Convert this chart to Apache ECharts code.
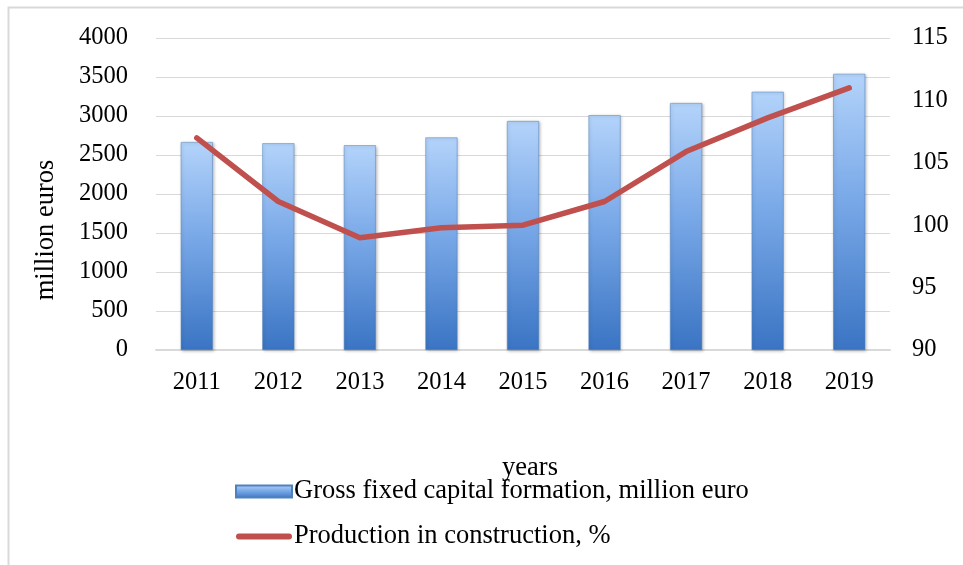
<!DOCTYPE html>
<html>
<head>
<meta charset="utf-8">
<script src="https://cdn.jsdelivr.net/npm/echarts@6/dist/echarts.min.js"></script>
<style>
  html, body { margin: 0; padding: 0; background: #fff; }
  #main { width: 963px; height: 565px; }
</style>
</head>
<body>
<div id="main"></div>
<script>
// 数据
var years = ['2011', '2012', '2013', '2014', '2015', '2016', '2017', '2018', '2019']
var capitalFormation = [2665, 2650, 2625, 2725, 2935, 3010, 3165, 3310, 3540]
var constructionIndex = [107.0, 101.9, 99.0, 99.8, 100.0, 101.9, 105.9, 108.6, 111.0]

var font = 'Liberation Serif, Times New Roman, serif'

var barColor = new echarts.graphic.LinearGradient(0, 0, 0, 1, [
  { offset: 0, color: '#b3d3fa' },
  { offset: 0.45, color: '#7aa9e8' },
  { offset: 1, color: '#3a74c3' }
])

// 图例中的粗红线(圆头)
var lineIcon = 'path://M0,0L0.01,0L0,0.01Z M3,3L53,3A3,3 0 0 1 53,9L3,9A3,3 0 0 1 3,3Z M56,12L55.99,12L56,11.99Z'

var myChart = echarts.init(document.getElementById('main'))

var option = {
  backgroundColor: '#fff',
  animation: false,
  textStyle: { fontFamily: font },
  grid: { left: 156, right: 73, top: 38, bottom: 215 },
  // 外框
  graphic: [{
    type: 'rect',
    shape: { x: 8.5, y: 7.5, width: 1000, height: 600 },
    style: { fill: 'none', stroke: '#d9d9d9', lineWidth: 2 },
    silent: true
  }],
  legend: {
    orient: 'vertical',
    left: 235,
    top: 478,
    padding: 0,
    itemGap: 18,
    itemWidth: 56,
    itemHeight: 12,
    textStyle: { fontFamily: font, fontSize: 26.5, color: '#000', padding: [0, 0, 0, -3] },
    data: [
      { name: 'Gross fixed capital formation, million euro', icon: 'rect' },
      { name: 'Production in construction, %', icon: lineIcon, itemStyle: { color: '#c0504d' } }
    ]
  },
  xAxis: {
    type: 'category',
    data: years,
    name: 'years',
    nameLocation: 'middle',
    nameGap: 105,
    nameTextStyle: { fontFamily: font, fontSize: 26.5, color: '#000', padding: [0, 0, 0, 14] },
    axisLine: { lineStyle: { color: '#d9d9d9', width: 2 } },
    axisTick: { show: false },
    axisLabel: { fontFamily: font, fontSize: 24.5, color: '#000', margin: 20 }
  },
  yAxis: [
    {
      type: 'value',
      min: 0,
      max: 4000,
      interval: 500,
      name: 'million euros',
      nameLocation: 'middle',
      nameRotate: 90,
      nameGap: 96,
      nameTextStyle: { fontFamily: font, fontSize: 26.5, color: '#000', padding: [0, 72, 0, 0] },
      axisLine: { show: false },
      axisTick: { show: false },
      axisLabel: {
        fontFamily: font, fontSize: 24.5, color: '#000', margin: 28,
        formatter: function (v) { return String(v) }
      },
      splitLine: { lineStyle: { color: '#d9d9d9', width: 1 } }
    },
    {
      type: 'value',
      min: 90,
      max: 115,
      interval: 5,
      axisLine: { show: false },
      axisTick: { show: false },
      axisLabel: { fontFamily: font, fontSize: 24.5, color: '#000', margin: 22 },
      splitLine: { show: false }
    }
  ],
  series: [
    {
      name: 'Gross fixed capital formation, million euro',
      type: 'bar',
      data: capitalFormation,
      barWidth: 32,
      itemStyle: {
        color: barColor,
        borderColor: '#4f81bd',
        borderWidth: 0.5,
        shadowColor: 'rgba(0,0,0,0.25)',
        shadowBlur: 3,
        shadowOffsetX: 1,
        shadowOffsetY: 1
      }
    },
    {
      name: 'Production in construction, %',
      type: 'line',
      yAxisIndex: 1,
      data: constructionIndex,
      symbol: 'none',
      lineStyle: { color: '#c0504d', width: 5.5, cap: 'round', join: 'round' },
      itemStyle: { color: '#c0504d' }
    }
  ]
}

myChart.setOption(option)
</script>
</body>
</html>
